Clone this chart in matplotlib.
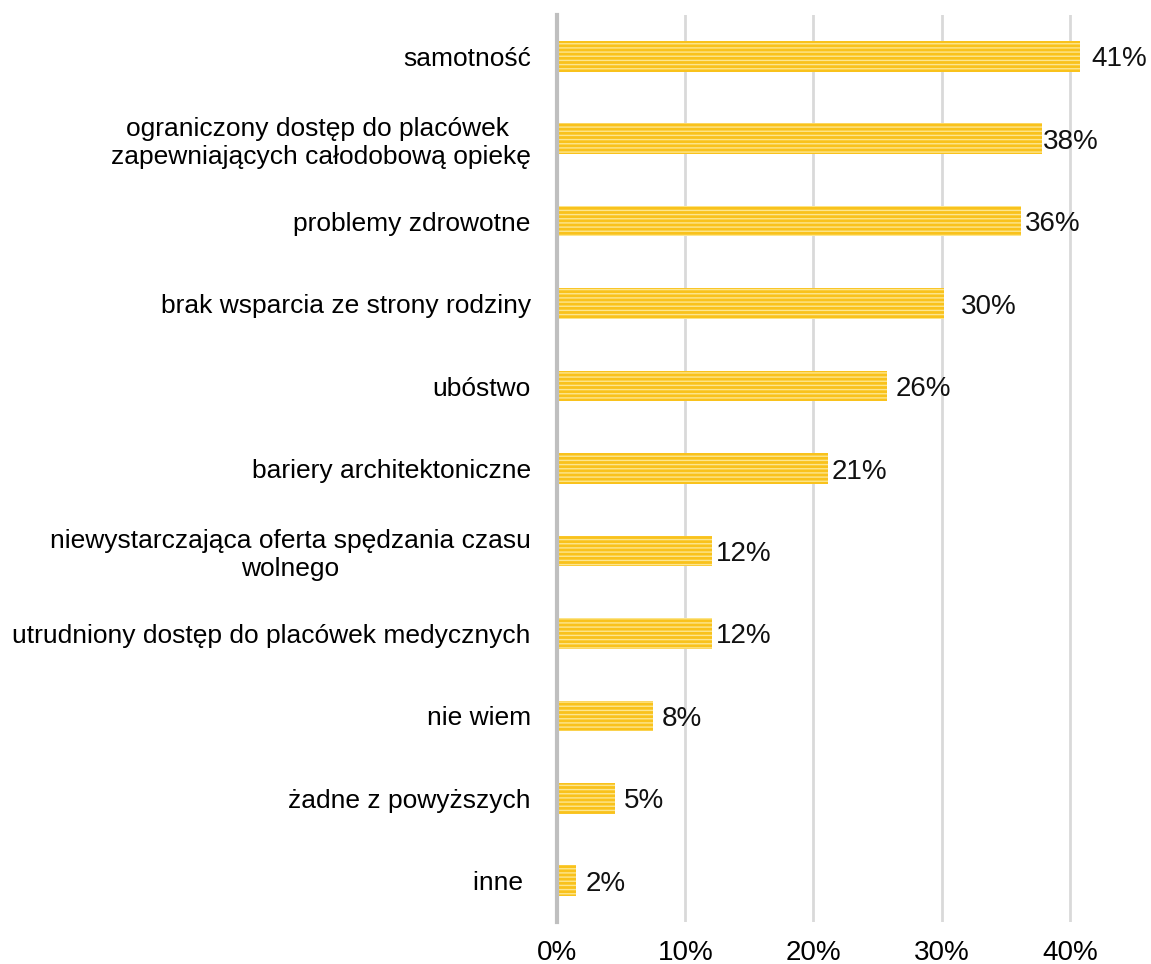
import numpy as np
import matplotlib.pyplot as plt

plt.rcParams["font.family"] = ["Liberation Sans", "DejaVu Sans"]
plt.rcParams["hatch.linewidth"] = 1.0

categories = [
    "samotność",
    "ograniczony dostęp do placówek \nzapewniających całodobową opiekę",
    "problemy zdrowotne",
    "brak wsparcia ze strony rodziny",
    "ubóstwo",
    "bariery architektoniczne",
    "niewystarczająca oferta spędzania czasu\nwolnego",
    "utrudniony dostęp do placówek medycznych",
    "nie wiem",
    "żadne z powyższych",
    "inne ",
]
values = [40.8, 37.8, 36.2, 30.2, 25.7, 21.1, 12.05, 12.05, 7.5, 4.5, 1.5]
value_labels = ["41%", "38%", "36%", "30%", "26%", "21%", "12%", "12%", "8%", "5%", "2%"]
label_gap = [0.9, 0.1, 0.3, 1.3, 0.7, 0.3, 0.3, 0.3, 0.7, 0.7, 0.7]

fig = plt.figure(figsize=(11.51, 9.64), dpi=100)
ax = fig.add_axes([0.484, 0.0436, 0.47, 0.9408])

y = np.arange(len(categories))
ax.barh(y, values, height=0.37, color="#f9c21c", edgecolor="#fde68f",
        linewidth=0, hatch="----", zorder=3)

for yi, v, lab, g in zip(y, values, value_labels, label_gap):
    ax.text(v + g, yi, lab, va="center_baseline", ha="left", fontsize=20,
            color="#111111")

ax.set_ylim(len(categories) - 0.5, -0.5)
ax.set_xlim(0, 42.2)
ax.set_yticks(y)
ax.set_yticklabels(categories, fontsize=19, multialignment="center")
ax.set_xticks([0, 10, 20, 30, 40])
ax.set_xticklabels(["0%", "10%", "20%", "30%", "40%"], fontsize=20)
ax.tick_params(axis="y", length=0, pad=19)
ax.tick_params(axis="x", length=0, pad=13)

ax.grid(axis="x", color="#d9d9d9", linewidth=2, zorder=0)
for s in ["top", "right", "bottom"]:
    ax.spines[s].set_visible(False)
ax.spines["left"].set_color("#bfbfbf")
ax.spines["left"].set_linewidth(3)
ax.spines["left"].set_zorder(4)

fig.savefig("out.png", dpi=100)
